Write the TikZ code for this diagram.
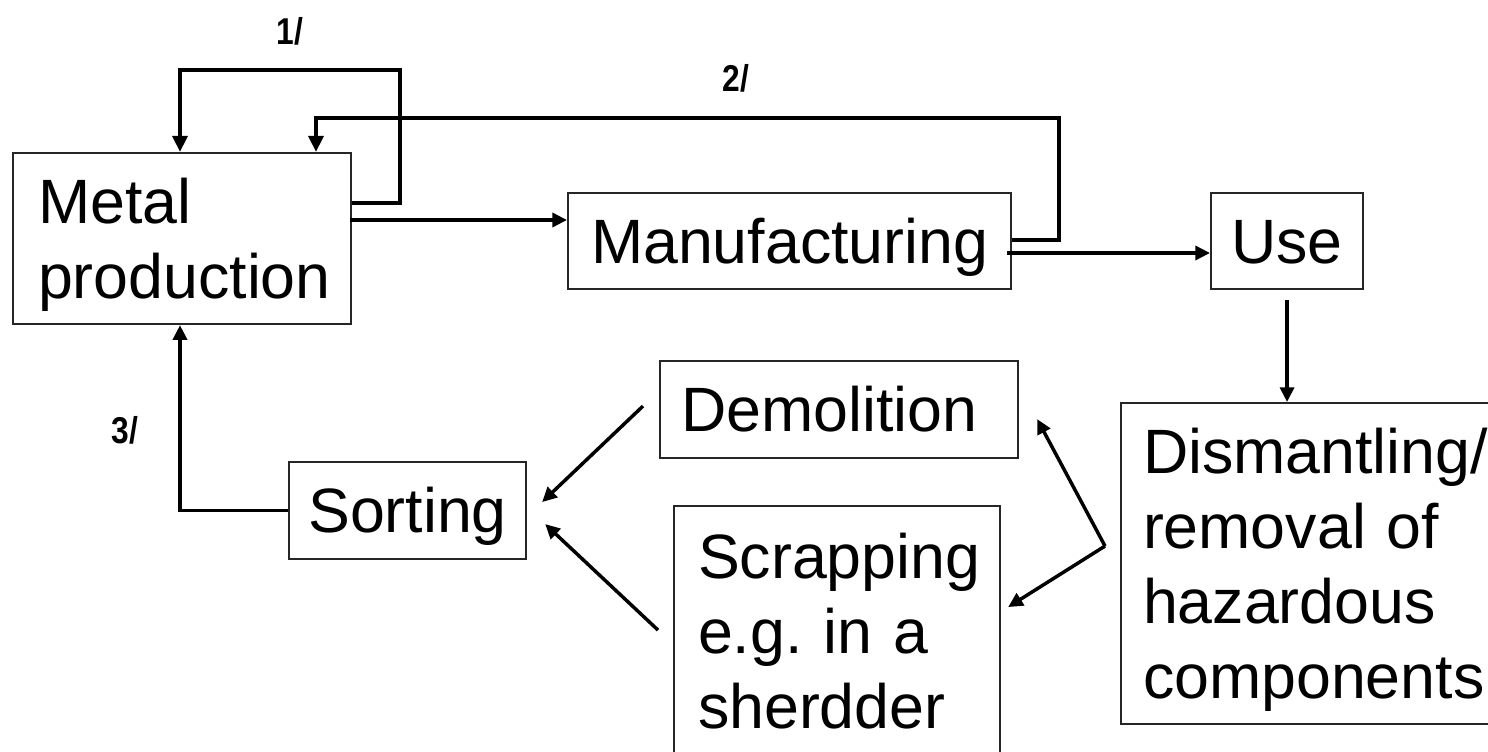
\documentclass[tikz,border=0pt]{standalone}
\usepackage{fontspec}
\setmainfont{Liberation Sans}
\newfontfamily\lblfont{Liberation Sans}[FakeStretch=0.85]
\usetikzlibrary{arrows.meta,calc}
\begin{document}
\begin{tikzpicture}[x=0.75pt,y=-0.75pt,
  box/.style={draw=black!85, line width=1.6pt, anchor=north west, inner sep=0pt,
    font=\fontsize{47}{56.25}\selectfont\frenchspacing, text height=33.6pt, text depth=0pt},
  lbox/.style={box, align=left},
  flow/.style={line width=2.6pt, -{Triangle[length=11pt,width=10.5pt]}},
  loopline/.style={line width=3.3pt, -{Triangle[length=12pt,width=11pt]}},
  lbl/.style={font=\lblfont\bfseries\fontsize{28}{32}\selectfont}
]
\useasboundingbox (0,0) rectangle (1488,752);

% boxes
\node[lbox, inner xsep=18.75pt, text width=216pt, minimum height=171*0.75pt, text depth=56.25pt] (metal) at (12,152) {Metal\\production};
\node[box, minimum width=443*0.75pt, minimum height=96*0.75pt] (manuf) at (567,192) {Manufacturing};
\node[box, minimum width=152*0.75pt, minimum height=96*0.75pt] (use) at (1210,192) {Use};
\node[lbox, inner xsep=16.5pt, text width=259.5pt, minimum height=321*0.75pt, text depth=168.75pt] (dism) at (1120,402) {Dismantling/\\removal of\\hazardous\\components};
\node[lbox, inner xsep=15.75pt, text width=237pt, minimum height=97*0.75pt] (demol) at (659,360) {Demolition};
\node[lbox, inner xsep=18pt, text width=208.5pt, minimum height=250*0.75pt, text depth=112.5pt] (scrap) at (673,505) {Scrapping\\e.g. in a\\sherdder};
\node[box, minimum width=237*0.75pt, minimum height=97*0.75pt] (sort) at (288,461) {Sorting};

% labels
\node[lbl] (l1) at (290,31) {1/};
\node[lbl] (l2) at (736,78) {2/};
\node[lbl] (l3) at (125,430) {3/};

% feedback loops
\draw[loopline] ($(metal.north east)+(0,51)$) -- ++(48,0) -- ++(0,-133) -| ($(metal.north west)+(168,0)$);
\draw[loopline] ($(manuf.north east)+(0,48)$) -- ++(47,0) -- ++(0,-122) -| ($(metal.north west)+(304,0)$);

% main flow
\coordinate (m1) at ($(metal.north east)+(-2,68)$);
\draw[flow] (m1) -- (m1 -| manuf.west);
\coordinate (u1) at ($(manuf.north east)+(-5,61)$);
\draw[flow] (u1) -- (u1 -| use.west);
\draw[flow] ($(use.south)+(0,10)$) -- (use.south |- dism.north);
\draw[flow] (sort.west) -| ($(metal.south west)+(168,0)$);

% into sorting
\draw[flow] ($(demol.west)+(-16,-3.5)$) -- ($(sort.east)+(15,-8.5)$);
\draw[flow] ($(scrap.west)+(-15,-1)$) -- ($(sort.east)+(18,13.5)$);

% from dismantling
\coordinate (j) at ($(dism.west)+(-15,-17.5)$);
\draw[flow] (j) -- ($(demol.east)+(18,9.5)$);
\draw[flow] (j) -- ($(scrap.east)+(7,-24)$);
\end{tikzpicture}
\end{document}
